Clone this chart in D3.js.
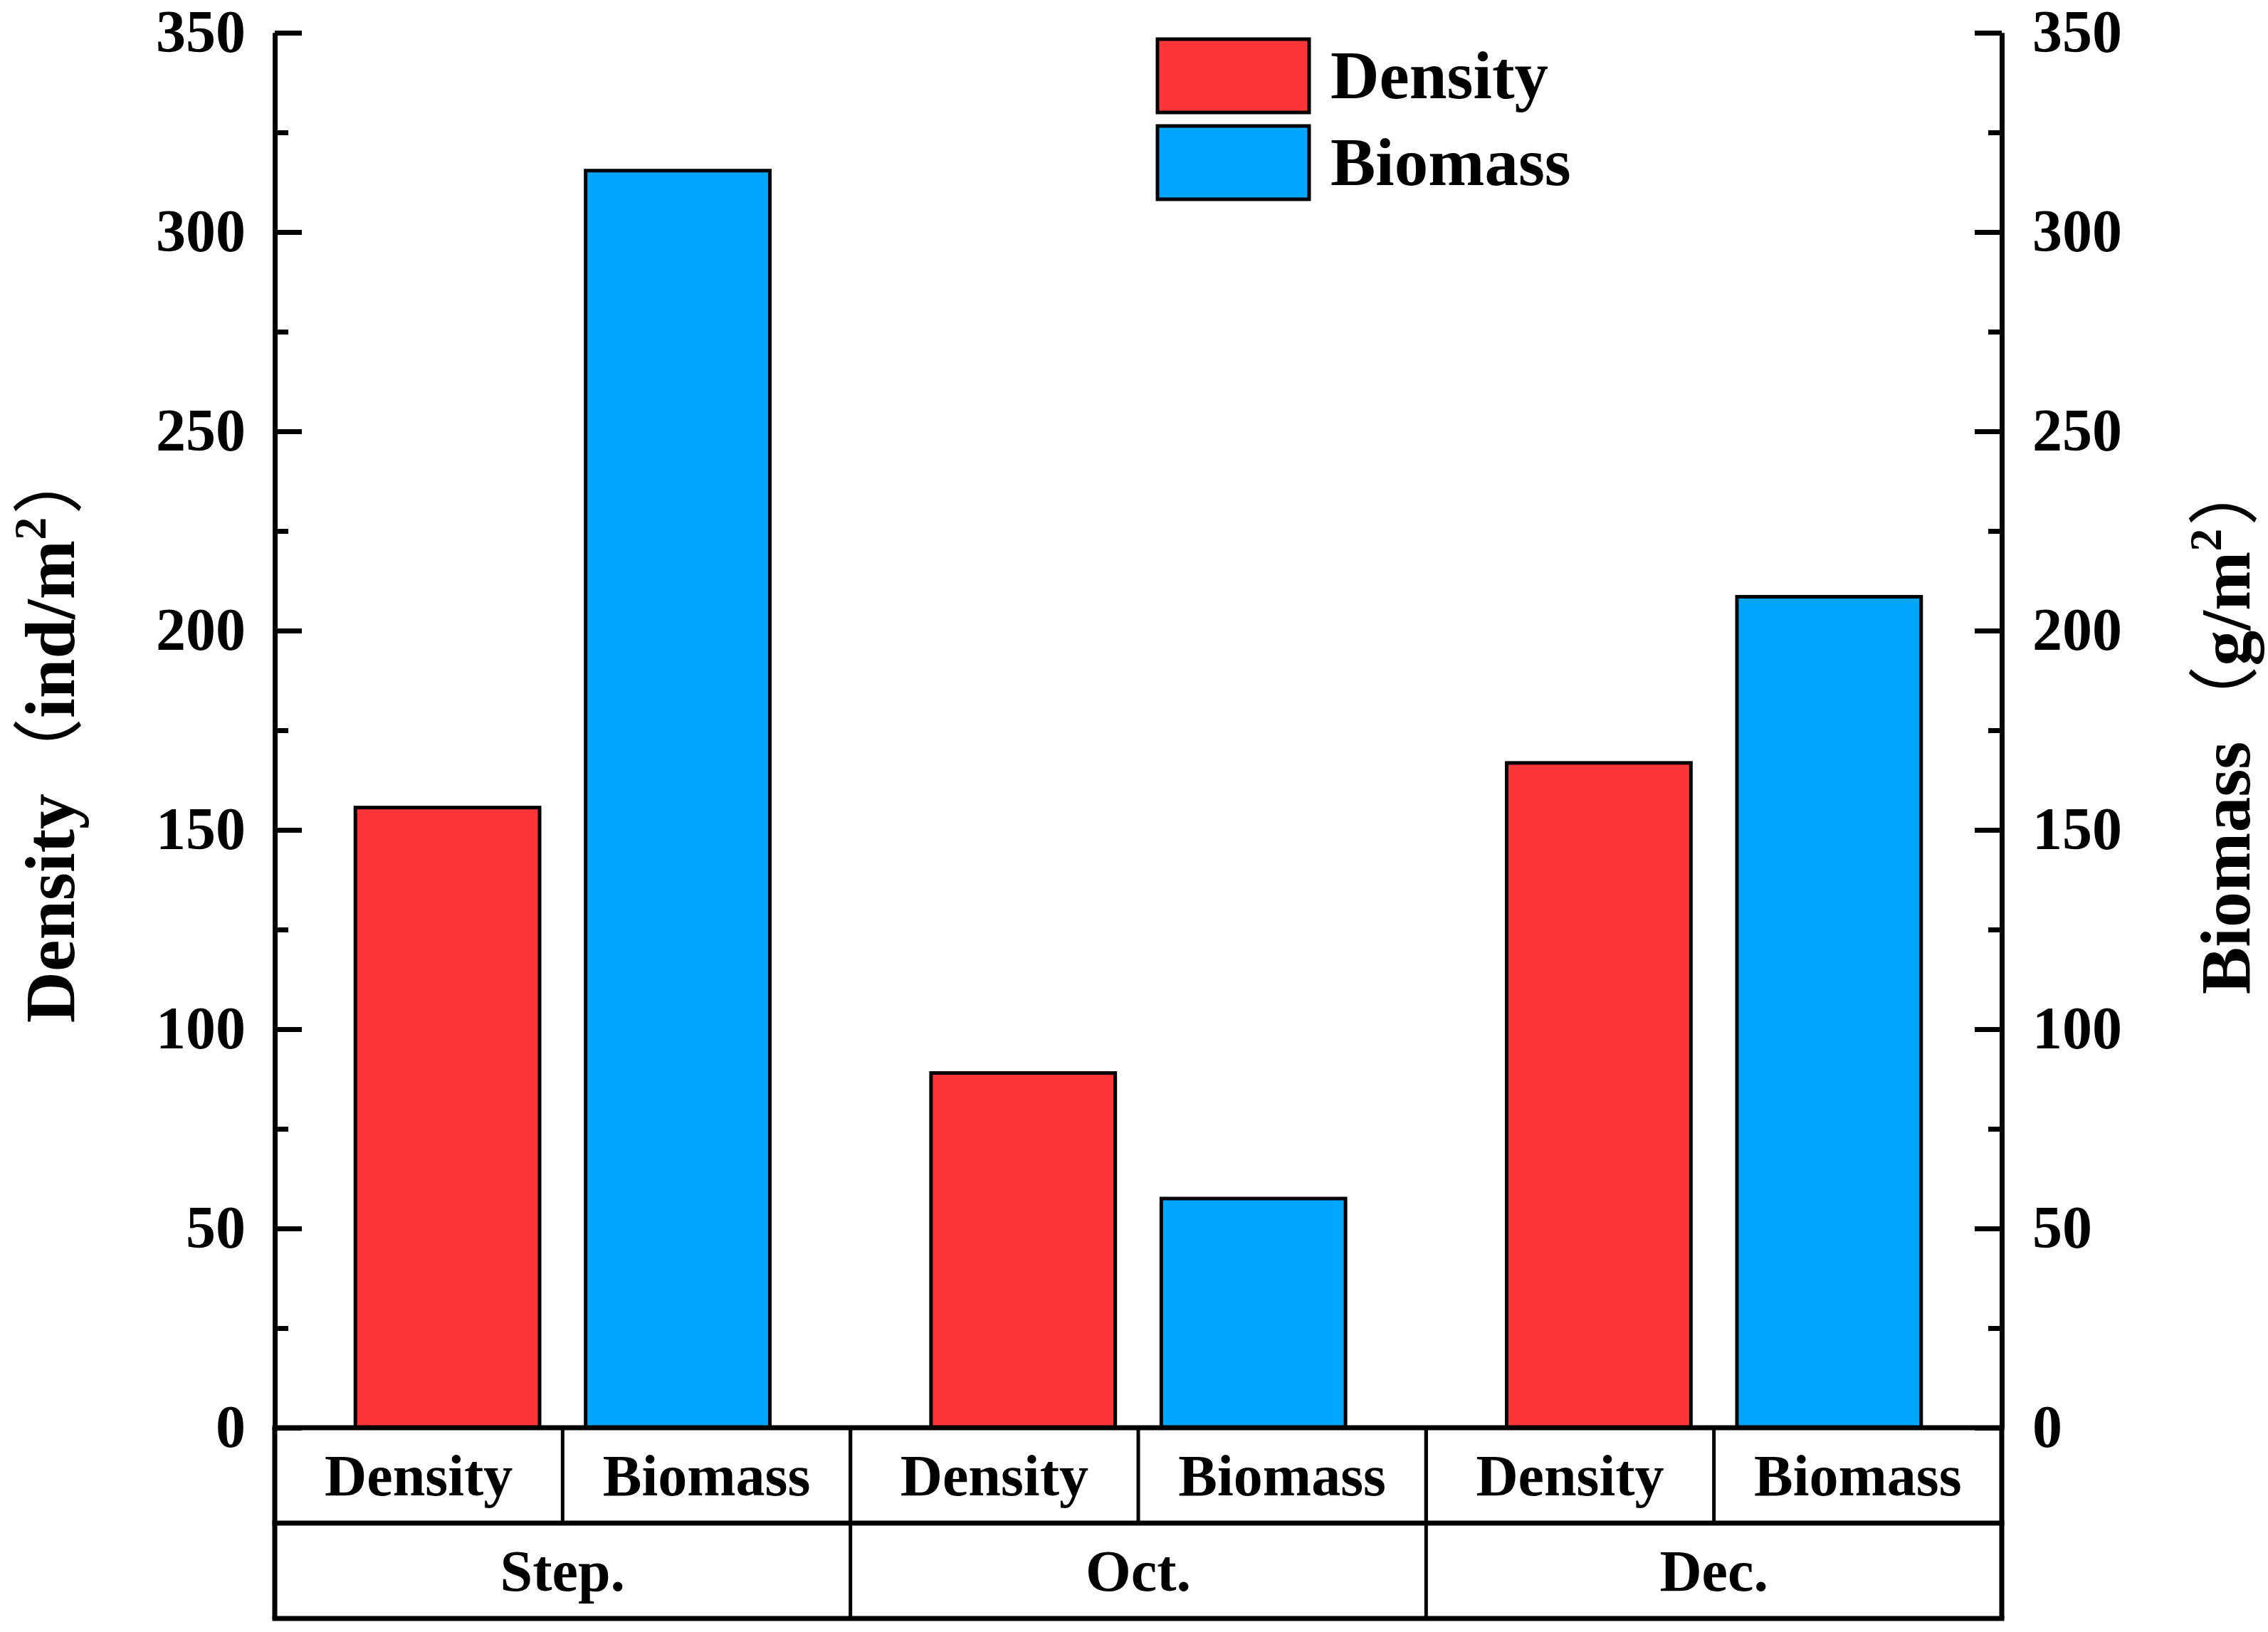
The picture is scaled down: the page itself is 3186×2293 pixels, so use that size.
<!DOCTYPE html>
<html>
<head>
<meta charset="utf-8">
<script src="https://cdn.jsdelivr.net/npm/d3@7"></script>
<style>
  body { margin: 0; background: #fff; }
  text { font-family: 'Times New Roman', 'Liberation Serif', 'Noto Sans CJK SC', serif; font-weight: bold; }
</style>
</head>
<body>
<div id="chart"></div>
<script>
// values
const groups = ['Step.', 'Oct.', 'Dec.'];
const series = ['Density', 'Biomass'];
const density = [155.6, 89.0, 166.8];   // ind/m2, left axis
const biomass = [315.4, 57.5, 208.5];   // g/m2, right axis
const yTicks = [0, 50, 100, 150, 200, 250, 300, 350];
const yMinorTicks = [25, 75, 125, 175, 225, 275, 325];
const colors = { Density: '#ff3639', Biomass: '#00a6ff' };

const drawChart = () => {
  const W = 3186, H = 2293;
  const margin = { top: 46, right: 374, bottom: 287, left: 386 };
  const width = W - margin.left - margin.right;
  const height = H - margin.top - margin.bottom;
  const rowH = 134;

  const svg = d3.select('#chart').append('svg')
    .attr('width', W)
    .attr('height', H)
    .append('g')
    .attr('transform', `translate(${margin.left}, ${margin.top})`);

  const x0 = d3.scaleBand().domain(groups).range([0, width]);
  const x1 = d3.scaleBand().domain(series).range([0, x0.bandwidth()])
    .paddingInner(0.2).paddingOuter(0.35);
  const yLeft = d3.scaleLinear().domain([0, 350]).range([height, 0]);
  const yRight = d3.scaleLinear().domain([0, 350]).range([height, 0]);

  const rows = groups.map((g, i) => ({ group: g, Density: density[i], Biomass: biomass[i] }));

  // bars
  const gGroup = svg.selectAll('g.grp').data(rows).enter().append('g')
    .attr('class', 'grp')
    .attr('transform', d => `translate(${x0(d.group)}, 0)`);

  gGroup.selectAll('rect')
    .data(d => series.map(s => ({ key: s, value: d[s] })))
    .enter().append('rect')
    .attr('x', d => x1(d.key))
    .attr('width', x1.bandwidth())
    .attr('y', d => (d.key === 'Density' ? yLeft : yRight)(d.value))
    .attr('height', d => height - (d.key === 'Density' ? yLeft : yRight)(d.value))
    .attr('fill', d => colors[d.key])
    .attr('stroke', '#000')
    .attr('stroke-width', 5);

  // axes
  const styleAxis = (g) => {
    g.selectAll('path, line').attr('stroke', '#000').attr('stroke-width', 7);
    g.selectAll('text').attr('font-size', 84).attr('fill', '#000')
      .attr('font-family', "'Times New Roman', 'Liberation Serif', serif").attr('font-weight', 'bold');
  };

  svg.append('g')
    .call(d3.axisLeft(yLeft).tickValues(yTicks).tickSizeInner(-38).tickSizeOuter(0).tickPadding(41))
    .call(styleAxis);
  svg.append('g')
    .call(d3.axisLeft(yLeft).tickValues(yMinorTicks).tickSizeInner(-19).tickSizeOuter(0).tickFormat(''))
    .call(styleAxis);

  svg.append('g')
    .attr('transform', `translate(${width}, 0)`)
    .call(d3.axisRight(yRight).tickValues(yTicks).tickSizeInner(-38).tickSizeOuter(0).tickPadding(43))
    .call(styleAxis);
  svg.append('g')
    .attr('transform', `translate(${width}, 0)`)
    .call(d3.axisRight(yRight).tickValues(yMinorTicks).tickSizeInner(-19).tickSizeOuter(0).tickFormat(''))
    .call(styleAxis);

  // category table under the plot
  const table = svg.append('g').attr('transform', `translate(0, ${height})`);
  const hLines = [0, rowH, 2 * rowH];
  table.selectAll('line.h').data(hLines).enter().append('line')
    .attr('x1', -3.5).attr('x2', width + 3.5)
    .attr('y1', d => d).attr('y2', d => d)
    .attr('stroke', '#000').attr('stroke-width', 7);

  const cells = [];
  groups.forEach(g => series.forEach(s => cells.push({ group: g, key: s })));
  const cellW = x0.bandwidth() / series.length;

  // row 1 dividers
  table.selectAll('line.v1').data(d3.range(1, cells.length)).enter().append('line')
    .attr('x1', d => d * cellW).attr('x2', d => d * cellW)
    .attr('y1', 0).attr('y2', rowH)
    .attr('stroke', '#000').attr('stroke-width', 5);
  // row 2 dividers + outer edges
  table.selectAll('line.v2').data([0, ...groups.slice(1).map(g => x0(g)), width]).enter().append('line')
    .attr('x1', d => d).attr('x2', d => d)
    .attr('y1', 0).attr('y2', 2 * rowH)
    .attr('stroke', '#000').attr('stroke-width', d => (d === 0 || d === width) ? 7 : 5);

  table.selectAll('text.cell').data(cells).enter().append('text')
    .attr('x', d => x0(d.group) + series.indexOf(d.key) * cellW + cellW / 2)
    .attr('y', rowH / 2 + 28)
    .attr('text-anchor', 'middle')
    .attr('font-size', 82)
    .text(d => d.key);

  table.selectAll('text.grp').data(groups).enter().append('text')
    .attr('x', d => x0(d) + x0.bandwidth() / 2)
    .attr('y', rowH * 1.5 + 28)
    .attr('text-anchor', 'middle')
    .attr('font-size', 82)
    .text(d => d);

  // axis titles
  const title = (x, y, name, unit) => {
    const t = svg.append('text')
      .attr('transform', `translate(${x}, ${y}) rotate(-90)`)
      .attr('text-anchor', 'middle')
      .attr('font-size', 100);
    t.append('tspan').text(name);
    t.append('tspan').attr('font-family', "'Noto Sans CJK SC', sans-serif").attr('font-weight', 'normal').attr('dx', 6).text('（');
    t.append('tspan').text(unit);
    t.append('tspan').attr('font-size', 64).attr('dy', -40).text('2');
    t.append('tspan').attr('dy', 40).attr('dx', 4).attr('font-family', "'Noto Sans CJK SC', sans-serif").attr('font-weight', 'normal').text('）');
  };
  title(104 - margin.left, 1030 - margin.top, 'Density', 'ind/m');
  title(3160 - margin.left, 1018 - margin.top, 'Biomass', 'g/m');

  // legend
  const legend = svg.append('g').attr('transform', `translate(${1626 - margin.left}, ${55 - margin.top})`);
  const item = legend.selectAll('g').data(series).enter().append('g')
    .attr('transform', (d, i) => `translate(0, ${i * 122})`);
  item.append('rect')
    .attr('width', 213).attr('height', 103)
    .attr('fill', d => colors[d])
    .attr('stroke', '#000').attr('stroke-width', 5);
  item.append('text')
    .attr('x', 243).attr('y', 51.5 + 31)
    .attr('font-size', 95)
    .text(d => d);
};

drawChart();
</script>
</body>
</html>
